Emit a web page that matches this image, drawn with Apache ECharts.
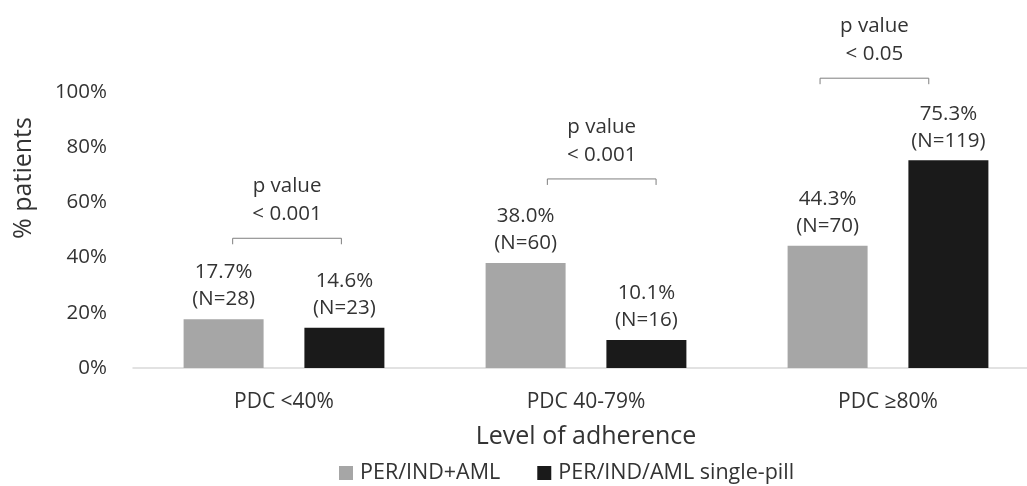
<!DOCTYPE html>
<html>
<head>
<meta charset="utf-8">
<script src="https://cdn.jsdelivr.net/npm/echarts@6/dist/echarts.min.js"></script>
<style>
  html, body { margin: 0; padding: 0; background: #fff; overflow: hidden; }
  #chart { width: 1039px; height: 486px; }
</style>
</head>
<body>
<div id="chart"></div>
<script>
// categories and values
var categories = ['PDC <40%', 'PDC 40-79%', 'PDC ≥80%'];
var seriesNames = ['PER/IND+AML', 'PER/IND/AML single-pill'];
var freeCombo = [17.7, 38.0, 44.3];
var freeComboN = [28, 60, 70];
var singlePill = [14.6, 10.1, 75.3];
var singlePillN = [23, 16, 119];
var yTicks = [0, 20, 40, 60, 80, 100];
var pValues = ['< 0.001', '< 0.001', '< 0.05'];
// level of each p-value bracket (in % units) and its horizontal shift (fraction of band)
var bracketLevel = [47, 68.5, 105];
var bracketShift = [0.01, 0.052, -0.045];

var font = 'Open Sans';
var textColor = '#333333';

// the plot runs a little past the right edge of the window, as in the original
var myChart = echarts.init(document.getElementById('chart'));

function barLabel(nArr) {
    return {
        show: true,
        position: 'top',
        distance: 6,
        fontFamily: font,
        fontSize: 20.5,
        lineHeight: 27,
        color: textColor,
        formatter: function (p) {
            return p.value.toFixed(1) + '%\n(N=' + nArr[p.dataIndex] + ')';
        }
    };
}

var bracketData = categories.map(function (c, i) {
    return [i, bracketLevel[i], bracketShift[i]];
});

var option = {
    animation: false,
    grid: { left: 133, right: 0, top: 92, bottom: 118 },
    legend: {
        data: seriesNames,
        left: 334,
        top: 457,
        itemWidth: 14,
        itemHeight: 14,
        itemGap: 37,
        icon: 'rect',
        textStyle: { fontFamily: font, fontSize: 21.5, color: textColor, padding: [0, 0, 0, 2] }
    },
    xAxis: {
        type: 'category',
        data: categories,
        name: 'Level of adherence',
        nameLocation: 'middle',
        nameGap: 56,
        nameTextStyle: { fontFamily: font, fontSize: 25, color: textColor },
        axisLine: { lineStyle: { color: '#d9d9d9', width: 1.5 } },
        axisTick: { show: false },
        axisLabel: { fontFamily: font, fontSize: 21, color: textColor, margin: 24 }
    },
    yAxis: {
        type: 'value',
        min: yTicks[0],
        max: yTicks[yTicks.length - 1],
        interval: yTicks[1] - yTicks[0],
        name: '% patients',
        nameLocation: 'middle',
        nameGap: 97,
        nameTextStyle: { fontFamily: font, fontSize: 25, color: textColor, padding: [0, 0, 0, 104] },
        axisLine: { show: false },
        axisTick: { show: false },
        splitLine: { show: false },
        axisLabel: { fontFamily: font, fontSize: 20.5, color: textColor, margin: 26, formatter: '{value}%' }
    },
    series: [
        {
            name: seriesNames[0],
            type: 'bar',
            data: freeCombo,
            barWidth: 80,
            barGap: '51%',
            itemStyle: { color: '#a6a6a6' },
            label: barLabel(freeComboN)
        },
        {
            name: seriesNames[1],
            type: 'bar',
            data: singlePill,
            barWidth: 80,
            itemStyle: { color: '#1a1a1a' },
            label: barLabel(singlePillN)
        },
        {
            name: 'pvalue',
            type: 'custom',
            data: bracketData,
            encode: { x: 0, y: 1 },
            clip: false,
            silent: true,
            renderItem: function (params, api) {
                var pt = api.coord([api.value(0), api.value(1)]);
                var band = api.size([1, 0])[0];
                var cx = pt[0] + api.value(2) * band;
                var half = band * 0.18;
                var y = pt[1];
                return {
                    type: 'group',
                    children: [
                        {
                            type: 'polyline',
                            shape: { points: [[cx - half, y + 6], [cx - half, y], [cx + half, y], [cx + half, y + 6]] },
                            style: { stroke: '#7f7f7f', lineWidth: 1, fill: null }
                        },
                        {
                            type: 'text',
                            x: cx,
                            y: y - 10,
                            style: {
                                text: 'p value\n' + pValues[params.dataIndex],
                                fontFamily: font,
                                fontSize: 20.5,
                                lineHeight: 28,
                                fill: textColor,
                                align: 'center',
                                verticalAlign: 'bottom'
                            }
                        }
                    ]
                };
            }
        }
    ]
};

myChart.setOption(option);
</script>
</body>
</html>
